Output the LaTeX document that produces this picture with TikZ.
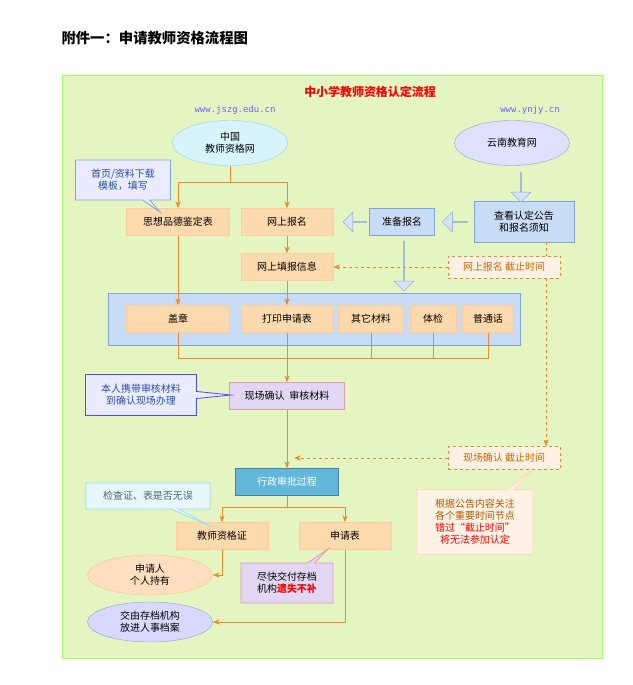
\documentclass[tikz,border=0pt]{standalone}
\usepackage{fontspec}
\setmainfont{Noto Sans CJK SC}
\newfontfamily\monofont{DejaVu Sans Mono}
\usetikzlibrary{shapes.geometric,shapes.callouts,shapes.arrows,arrows.meta}
\definecolor{panelgreen}{HTML}{E4F5C2}
\definecolor{boxorange}{HTML}{FDD9AE}
\definecolor{lineorange}{HTML}{EE8A2C}
\definecolor{boxblue}{HTML}{C9DCF5}
\definecolor{edgeblue}{HTML}{7FA6DA}
\definecolor{boxpurple}{HTML}{E2D7F2}
\definecolor{notetext}{HTML}{2A4FA8}
\tikzset{
  obox/.style={draw=orange!40, fill=boxorange, minimum width=#1, minimum height=27bp, font=\normalsize, inner sep=1pt},
  obox/.default=92bp,
  bbox/.style={draw=edgeblue, fill=boxblue, font=\normalsize, inner sep=1pt},
  flow/.style={draw=lineorange, thick, -{Stealth[length=7pt]}},
  plain/.style={draw=lineorange, thick},
  dline/.style={draw=lineorange, thick, dashed},
  bigarrow/.style={draw=edgeblue, fill=boxblue!80, single arrow, single arrow head extend=5bp, minimum height=#1, minimum width=20bp, inner sep=0pt},
  note/.style={rectangle callout, draw=edgeblue, thick, font=\normalsize, align=center, inner sep=3pt},
}
\begin{document}
\begin{tikzpicture}[x=1bp,y=-1bp]
  \useasboundingbox (0,0) rectangle (633,685);
  \fill[white] (0,0) rectangle (633,685);
  \node[font=\Large\bfseries, anchor=west] (head) at (58,38) {附件一：申请教师资格流程图};
  % green panel
  \draw[green!50!lime!60, fill=panelgreen] (62,75) rectangle (602,658);
  \node[red, font=\large\bfseries] (title) at (370,92) {中小学教师资格认定流程};
  \node[blue!60, font=\monofont\small] (url1) at (235,110) {www.jszg.edu.cn};
  \node[blue!60, font=\monofont\small] (url2) at (530,110) {www.ynjy.cn};

  % sites
  \node[ellipse, draw=cyan!50, fill=cyan!15, minimum width=115bp, minimum height=45bp, align=center] (zg) at (230,143) {中国\\教师资格网};
  \node[ellipse, draw=edgeblue, fill=blue!12, minimum width=115bp, minimum height=45bp] (yn) at (512,143) {云南教育网};

  % first row
  \node[obox=103bp] (pd) at (178,222) {思想品德鉴定表};
  \node[obox] (bm) at (287,222) {网上报名};
  \node[bbox, minimum width=65bp, minimum height=27bp] (zb) at (402,222) {准备报名};
  \node[bbox, minimum width=100bp, minimum height=41bp, align=center] (ck) at (524,222) {查看认定公告\\和报名须知};
  \node[bigarrow=30bp, rotate=-90] (a1) at (521,187) {};
  \node[bigarrow=25bp, rotate=180] (a2) at (455,222) {};
  \node[bigarrow=24bp, rotate=180] (a3) at (355,222) {};
  \node[bigarrow=50bp, rotate=-90] (a4) at (404,266) {};
  \draw[plain] (zg.south) -- (230,182) coordinate (split1);
  \draw[flow] (split1) -| (pd.north);
  \draw[flow] (split1) -| (bm.north);
  \node[note, callout absolute pointer={(160,212)}, fill=blue!8, text=notetext, minimum width=95bp, minimum height=40bp] (n1) at (123,180) {首页/资料下载\\模板，填写};

  \node[obox] (tb) at (287,267) {网上填报信息};
  \draw[flow] (bm) -- (tb);
  \node[draw=lineorange, dashed, fill=orange!10, minimum width=112bp, minimum height=22bp, text=orange!80!black] (dl1) at (504,267) {网上报名 截止时间};
  \draw[dline, -{Stealth[length=7pt]}] (dl1) -- (tb);

  % materials panel
  \draw[edgeblue, fill=boxblue] (108,293) rectangle (520,345);
  \node[obox=103bp] (gz) at (178,319) {盖章};
  \node[obox] (dy) at (287,319) {打印申请表};
  \node[obox=65bp] (qt) at (371,319) {其它材料};
  \node[obox=46bp] (tj) at (433,319) {体检};
  \node[obox=51bp] (pt) at (488,319) {普通话};
  \draw[flow] (pd) -- (gz);
  \draw[flow] (tb) -- (dy);
  \draw[plain] (gz.south) |- (287,358) coordinate (join1);
  \foreach \b in {dy,qt,tj} \draw[plain] (\b.south) -- (\b.south |- join1);
  \draw[plain] (pt.south) |- (join1);

  \node[draw=purple!40, fill=boxpurple, minimum width=115bp, minimum height=27bp] (xc) at (287,396) {现场确认\enspace 审核材料};
  \draw[flow] (join1) -- (xc);
  \node[note, callout absolute pointer={(231,395)}, fill=blue!8, text=notetext, draw=blue!70, minimum width=111bp, minimum height=41bp] (n2) at (141,395) {本人携带审核材料\\到确认现场办理};

  \node[draw=cyan!60!black, fill=cyan!60!teal!70, text=white, minimum width=103bp, minimum height=27bp] (xz) at (287,482) {行政审批过程};
  \draw[flow] (xc) -- (xz);
  \node[draw=lineorange, dashed, fill=orange!10, minimum width=112bp, minimum height=23bp, text=orange!80!black] (dl2) at (504,458) {现场确认 截止时间};
  \draw[dline, -{Stealth[length=7pt]}] (dl2) -- (294,458);
  \draw[dline] (546,242) -- (546,256);
  \draw[dline, -{Stealth[length=7pt]}] (dl1.south -| 546,0) -- (dl2.north -| 546,0);
  \node[note, callout absolute pointer={(532,470)}, draw=orange!30, fill=orange!10, text=orange!70!black, minimum width=116bp, minimum height=65bp] (n3) at (475,522) {根据公告内容关注\\各个重要时间节点\\\textcolor{red}{错过“截止时间”}\\\textcolor{red}{将无法参加认定}};

  \node[obox] (zs) at (222,536) {教师资格证};
  \node[obox] (sq) at (345,536) {申请表};
  \draw[plain] (xz.south) -- (287,507) coordinate (split2);
  \draw[flow] (split2) -| (zs.north);
  \draw[flow] (split2) -| (sq.north);
  \node[note, callout absolute pointer={(212,527)}, draw=cyan!40, fill=cyan!10, text=cyan!40!black, minimum width=124bp, minimum height=26bp] (n4) at (148,496) {检查证、表是否无误};

  \node[ellipse, draw=orange!50, fill=orange!25, minimum width=125bp, minimum height=40bp, align=center] (gr) at (150,575) {申请人\\个人持有};
  \node[ellipse, draw=edgeblue, fill=blue!15, minimum width=125bp, minimum height=40bp, align=center] (da) at (150,622) {交由存档机构\\放进人事档案};
  \draw[flow] (zs.south) |- (gr.east);
  \draw[flow] (sq.south) |- (da.east);
  \node[note, callout absolute pointer={(328,549)}, draw=purple!40, fill=boxpurple, minimum width=92bp, minimum height=40bp] (n5) at (287,583) {尽快交付存档\\机构\textcolor{red}{\bfseries 遗失不补}};
\end{tikzpicture}
\end{document}
